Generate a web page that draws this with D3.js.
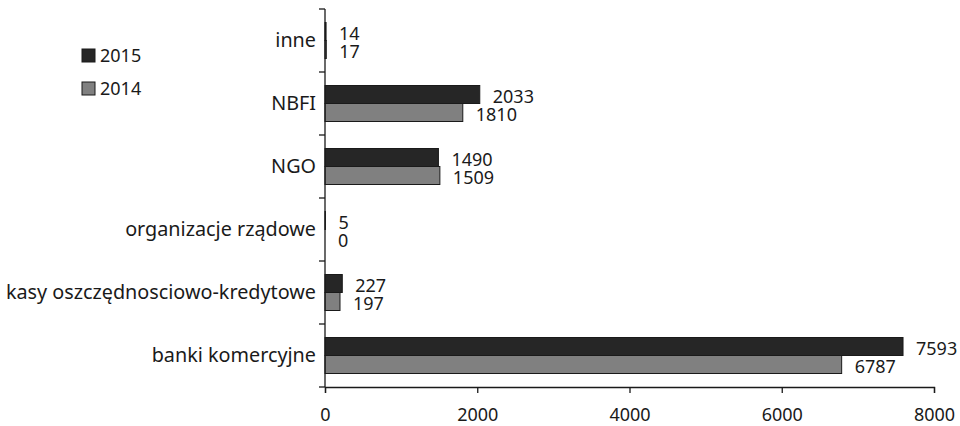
<!DOCTYPE html>
<html>
<head>
<meta charset="utf-8">
<script src="https://cdn.jsdelivr.net/npm/d3@7"></script>
<style>
  html, body { margin: 0; padding: 0; background: #fff; }
  svg { display: block; }
  text { font-family: "Noto Sans", "Open Sans", sans-serif; fill: #1a1a1a; }
</style>
</head>
<body>
<svg id="chart" width="960" height="426"></svg>
<script>
// Institution types, top to bottom
const categories = ["inne", "NBFI", "NGO", "organizacje rządowe", "kasy oszczędnosciowo-kredytowe", "banki komercyjne"];
const series = ["2015", "2014"];
const values2015 = [14, 2033, 1490, 5, 227, 7593];
const values2014 = [17, 1810, 1509, 0, 197, 6787];
const xTicks = [0, 2000, 4000, 6000, 8000];

const colors = { "2015": "#262626", "2014": "#808080" };
const seriesValues = { "2015": values2015, "2014": values2014 };

const svg = d3.select("#chart");
const numSize = 18;
const catSize = 19.8;

const x = d3.scaleLinear().domain([0, 8000]).range([325, 934]);
const y = d3.scaleBand().domain(categories).range([9, 387]).padding(0);
const inner = d3.scaleBand().domain(series).range([0, y.bandwidth()])
  .paddingInner(0).paddingOuter(0.75);

// Bars
const rows = [];
categories.forEach((c, i) => {
  series.forEach(s => rows.push({ cat: c, s, v: seriesValues[s][i] }));
});

svg.append("g").selectAll("rect").data(rows).join("rect")
  .attr("x", x(0))
  .attr("y", d => y(d.cat) + inner(d.s))
  .attr("width", d => x(d.v) - x(0))
  .attr("height", inner.bandwidth())
  .attr("fill", d => colors[d.s])
  .attr("stroke", d => d.v > 0 ? "#1a1a1a" : "none")
  .attr("stroke-width", 1);

// Value labels
svg.append("g").selectAll("text").data(rows).join("text")
  .attr("x", d => x(d.v) + 13)
  .attr("y", d => y(d.cat) + inner(d.s) + inner.bandwidth() / 2 + 2)
  .attr("dy", "0.35em")
  .attr("font-size", numSize)
  .text(d => d.v);

// X axis
const xAxis = svg.append("g")
  .attr("transform", "translate(0,387)")
  .call(d3.axisBottom(x).tickValues(xTicks).tickFormat(d3.format("d")).tickSizeOuter(0).tickSize(6).tickPadding(15));
xAxis.select(".domain").attr("stroke", "#1a1a1a").attr("stroke-width", 1.3);
xAxis.selectAll(".tick line").attr("stroke", "#1a1a1a").attr("stroke-width", 1.3);
xAxis.selectAll(".tick text").attr("font-size", numSize).attr("font-family", null).attr("fill", "#1a1a1a");

// Y axis: line, ticks at band boundaries, category labels centred in bands
const yAxis = svg.append("g");
yAxis.append("line")
  .attr("x1", x(0)).attr("x2", x(0))
  .attr("y1", y.range()[0]).attr("y2", y.range()[1])
  .attr("stroke", "#1a1a1a").attr("stroke-width", 1.3);
const boundaries = categories.map(c => y(c)).concat([y.range()[1]]);
yAxis.selectAll("line.tick").data(boundaries).join("line")
  .attr("class", "tick")
  .attr("x1", x(0) - 6).attr("x2", x(0))
  .attr("y1", d => d).attr("y2", d => d)
  .attr("stroke", "#1a1a1a").attr("stroke-width", 1.3);
yAxis.selectAll("text").data(categories).join("text")
  .attr("x", x(0) - 9)
  .attr("y", d => y(d) + y.bandwidth() / 2)
  .attr("dy", "0.35em")
  .attr("text-anchor", "end")
  .attr("font-size", catSize)
  .text(d => d);

// Legend
const legend = svg.append("g").attr("transform", "translate(82,49)");
series.forEach((s, i) => {
  const g = legend.append("g").attr("transform", `translate(0,${i * 33})`);
  g.append("rect").attr("width", 13).attr("height", 13)
    .attr("fill", colors[s]).attr("stroke", "#1a1a1a").attr("stroke-width", 1);
  g.append("text").attr("x", 18).attr("y", 7).attr("dy", "0.35em")
    .attr("font-size", numSize).text(s);
});
</script>
</body>
</html>
